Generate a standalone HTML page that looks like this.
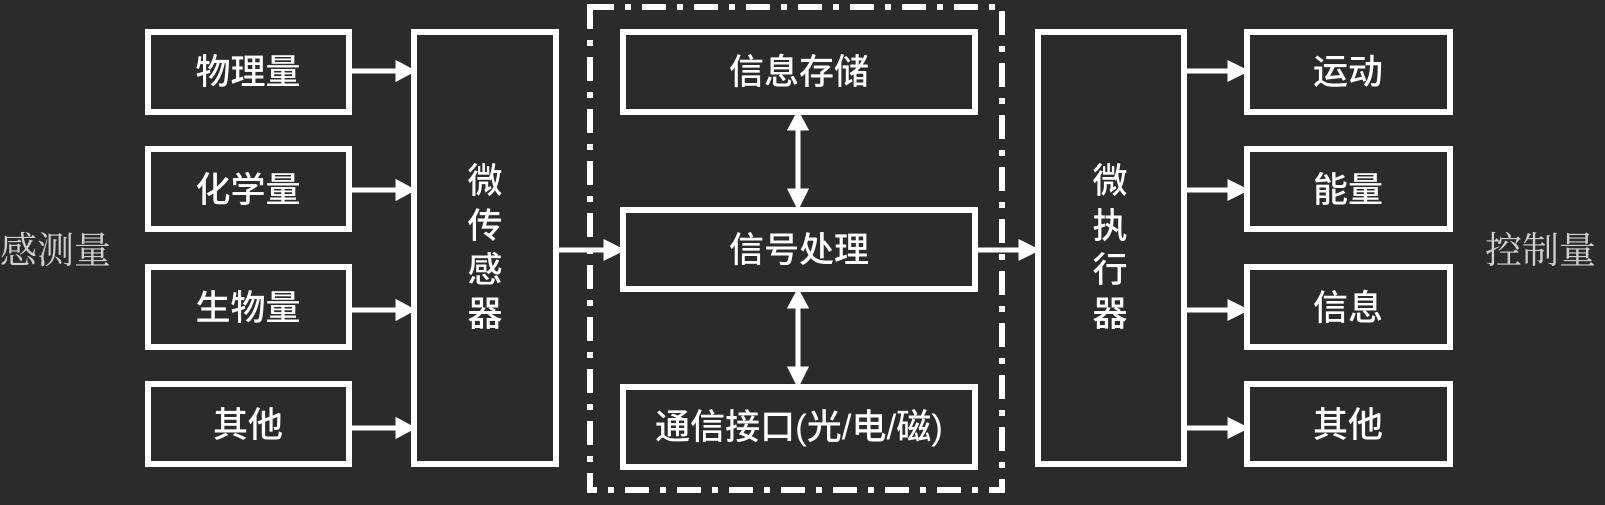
<!DOCTYPE html>
<html><head><meta charset="utf-8"><style>
html,body{margin:0;padding:0;background:#2b2b2b;}
</style></head><body>
<svg width="1605" height="500" viewBox="0 0 1605 500" xmlns="http://www.w3.org/2000/svg">
<rect width="1605" height="500" fill="#2b2b2b"/>
<g fill="none" stroke="#fff" stroke-width="6">
<rect x="148" y="32" width="201" height="80"/>
<rect x="148" y="149" width="201" height="80"/>
<rect x="148" y="267" width="201" height="80"/>
<rect x="148" y="384" width="201" height="80"/>
<rect x="414" y="32" width="142" height="432"/>
<rect x="623" y="32" width="352" height="80"/>
<rect x="623" y="210" width="352" height="79"/>
<rect x="623" y="387" width="352" height="80"/>
<rect x="1038" y="32" width="146" height="432"/>
<rect x="1247" y="32" width="203" height="80"/>
<rect x="1247" y="149" width="203" height="80"/>
<rect x="1247" y="267" width="203" height="80"/>
<rect x="1247" y="384" width="203" height="80"/>
<rect x="590" y="7" width="412" height="483" stroke-dasharray="24 11 6 11"/>
</g>
<g stroke="#fff" stroke-width="5" fill="#fff">
<line x1="352" y1="71" x2="400" y2="71"/><path d="M398,64 L411,71 L398,78Z"/>
<line x1="352" y1="190" x2="400" y2="190"/><path d="M398,183 L411,190 L398,197Z"/>
<line x1="352" y1="310" x2="400" y2="310"/><path d="M398,303 L411,310 L398,317Z"/>
<line x1="352" y1="428" x2="400" y2="428"/><path d="M398,421 L411,428 L398,435Z"/>
<line x1="558" y1="250" x2="608" y2="250"/><path d="M606,243 L620,250 L606,257Z"/>
<line x1="977" y1="250" x2="1022" y2="250"/><path d="M1021,243 L1035,250 L1021,257Z"/>
<line x1="1186" y1="71" x2="1231" y2="71"/><path d="M1230,64 L1244,71 L1230,78Z"/>
<line x1="1186" y1="190" x2="1231" y2="190"/><path d="M1230,183 L1244,190 L1230,197Z"/>
<line x1="1186" y1="310" x2="1231" y2="310"/><path d="M1230,303 L1244,310 L1230,317Z"/>
<line x1="1186" y1="428" x2="1231" y2="428"/><path d="M1230,421 L1244,428 L1230,435Z"/>
<line x1="798" y1="126" x2="798" y2="193"/><path d="M791,128 L798,115 L805,128Z"/><path d="M791,191 L798,205 L805,191Z"/>
<line x1="798" y1="304" x2="798" y2="370"/><path d="M791,306 L798,293 L805,306Z"/><path d="M791,369 L798,383 L805,369Z"/>
</g>
<g font-family="'Liberation Sans','Noto Sans CJK SC',sans-serif" font-size="35" fill="#fff" text-anchor="middle" font-weight="500">
<text x="248" y="84">物理量</text>
<text x="248" y="202">化学量</text>
<text x="248" y="320">生物量</text>
<text x="248" y="437">其他</text>
<text x="485" y="193">微</text>
<text x="485" y="238">传</text>
<text x="485" y="282">感</text>
<text x="485" y="326">器</text>
<text x="799" y="84">信息存储</text>
<text x="799" y="262">信号处理</text>
<text x="799" y="439">通信接口(光/电/磁)</text>
<text x="1110" y="193">微</text>
<text x="1110" y="238">执</text>
<text x="1110" y="282">行</text>
<text x="1110" y="326">器</text>
<text x="1348" y="84">运动</text>
<text x="1348" y="202">能量</text>
<text x="1348" y="320">信息</text>
<text x="1348" y="437">其他</text>
</g>
<g font-family="'Liberation Serif','Noto Serif CJK SC',serif" font-size="37" fill="#d0d0d0">
<text x="0" y="263">感测量</text>
<text x="1485" y="263">控制量</text>
</g>
</svg>
</body></html>
